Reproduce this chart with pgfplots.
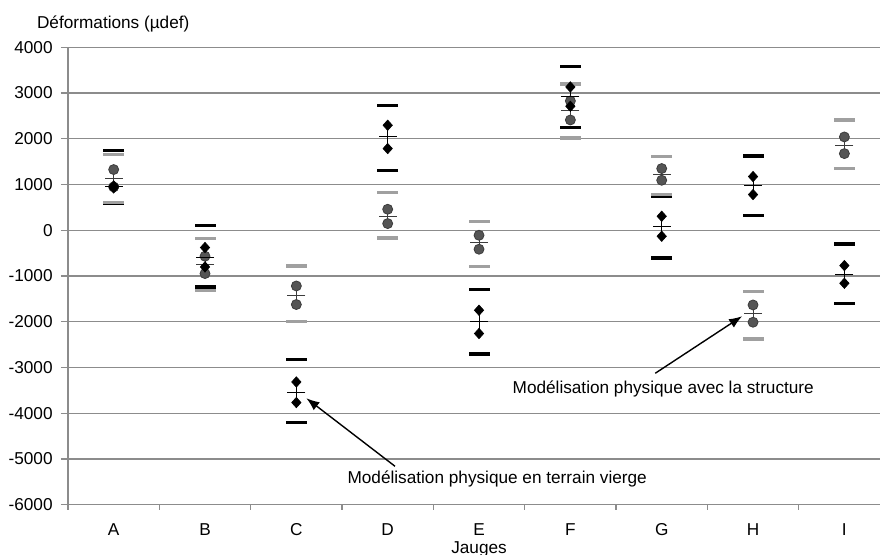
\documentclass[border=0pt]{standalone}
\usepackage{fontspec}
\setmainfont{Liberation Sans}
\usepackage{pgfplots}
\usepackage{pgfplotstable}
\pgfplotsset{compat=1.18}
\usetikzlibrary{arrows.meta}
\definecolor{gridgrey}{HTML}{8C8C8C}
\definecolor{dashgrey}{HTML}{A0A0A0}
\definecolor{circgrey}{HTML}{555555}
\definecolor{circedge}{HTML}{3C3C3C}

% terrain vierge (black diamonds)
\pgfplotstableread{
x y
0 970
0 925
1 -378
1 -802
2 -3317
2 -3767
3 2296
3 1786
4 -1749
4 -2258
5 3133
5 2711
6 306
6 -131
7 1174
7 780
8 -772
8 -1159
}\diamonds
% avec la structure (grey circles)
\pgfplotstableread{
x y
0 1327
0 947
1 -568
1 -947
2 -1218
2 -1624
3 459
3 146
4 -110
4 -415
5 2827
5 2411
6 1349
6 1093
7 -1633
7 -2011
8 2040
8 1676
}\circles
% means and half ranges
\pgfplotstableread{
x y e
0 948 22
1 -590 212
2 -3542 225
3 2041 255
4 -2003 255
5 2922 211
6 87 218
7 977 197
8 -966 194
}\dmeans
\pgfplotstableread{
x y e
0 1130 190
1 -757 190
2 -1421 203
3 302 157
4 -262 152
5 2619 208
6 1221 128
7 -1822 189
8 1858 182
}\cmeans
% black range dashes
\pgfplotstableread{
x y
0 1749
0 600
1 109
1 -1240
2 -2827
2 -4204
3 2726
3 1312
4 -1290
4 -2705
5 3585
5 2245
6 750
6 -606
7 1624
7 321
8 -299
8 -1596
}\blackdash
% grey range dashes
\pgfplotstableread{
x y
0 1655
0 612
1 -181
1 -1312
2 -780
2 -1989
3 824
3 -168
4 197
4 -795
5 3198
5 2018
6 1611
6 787
7 -1334
7 -2376
8 2412
8 1348
}\greydash

\begin{document}
\begin{tikzpicture}[font=\fontsize{8.6}{10.3}\selectfont]
\begin{axis}[
  at={(0,0)}, anchor=south west,
  scale only axis, width=406pt, height=228.7pt,
  xmin=-0.5, xmax=8.39, ymin=-6000, ymax=4000,
  clip=false,
  axis x line*=bottom, axis y line*=left,
  axis line style={gridgrey, line width=0.6pt},
  tick align=outside,
  xtick={0,1,2,3,4,5,6,7,8},
  xticklabels={A,B,C,D,E,F,G,H,I},
  minor xtick={-0.5,0.5,1.5,2.5,3.5,4.5,5.5,6.5,7.5},
  major x tick style={draw=none},
  minor tick length=2.5pt,
  minor x tick style={gridgrey, line width=0.6pt},
  ytick={-6000,-5000,-4000,-3000,-2000,-1000,0,1000,2000,3000,4000},
  yticklabels={-6000,-5000,-4000,-3000,-2000,-1000,0,1000,2000,3000,4000},
  major tick length=3.5pt,
  major y tick style={gridgrey, line width=0.6pt},
  ymajorgrids,
  major grid style={gridgrey, line width=0.6pt},
  yticklabel style={anchor=east, inner sep=0pt, xshift=-4pt},
  xticklabel style={anchor=base, inner sep=0pt, yshift=-12pt},
]
\addplot[only marks, mark=-, mark size=5.25pt, mark options={line width=1.7pt, draw=black}] table[x=x,y=y]{\blackdash};
\addplot[only marks, mark=-, mark size=5.25pt, mark options={line width=1.7pt, draw=dashgrey}] table[x=x,y=y]{\greydash};
\addplot[only marks, mark=-, mark size=4.5pt, mark options={line width=0.5pt, draw=circedge},
  error bars/.cd, y dir=both, y explicit, error mark=none,
  error bar style={line width=0.5pt, circedge}] table[x=x,y=y,y error=e]{\cmeans};
\addplot[only marks, mark=*, mark size=2.5pt, mark options={fill=circgrey, draw=circedge, line width=0.4pt}] table[x=x,y=y]{\circles};
\addplot[only marks, mark=-, mark size=4.5pt, mark options={line width=0.5pt, draw=black},
  error bars/.cd, y dir=both, y explicit, error mark=none,
  error bar style={line width=0.5pt, black}] table[x=x,y=y,y error=e]{\dmeans};
\addplot[only marks, mark=diamond*, mark size=2.6pt, mark options={fill=black, draw=black, line width=0.3pt, xscale=1.2}] table[x=x,y=y]{\diamonds};

\draw[-{Latex[length=6.5pt,width=5pt]}, line width=0.7pt] (axis cs:3.08,-5160) -- (axis cs:2.11,-3673);
\draw[-{Latex[length=6.5pt,width=5pt]}, line width=0.7pt] (axis cs:5.93,-3126) -- (axis cs:6.88,-1880);
\node at (axis cs:4.199,-5444) {Modélisation physique en terrain vierge};
\node at (axis cs:6.017,-3476) {Modélisation physique avec la structure};
\node[anchor=base] at (axis cs:4,-6000) [yshift=-24.6pt] {Jauges};
\node[anchor=base west] at (rel axis cs:0,1) [xshift=-19pt, yshift=9.5pt] {Déformations (µdef)};
\end{axis}
\pgfresetboundingbox
\path (-34pt,-25.15pt) rectangle (406pt,252.35pt);
\end{tikzpicture}
\end{document}
